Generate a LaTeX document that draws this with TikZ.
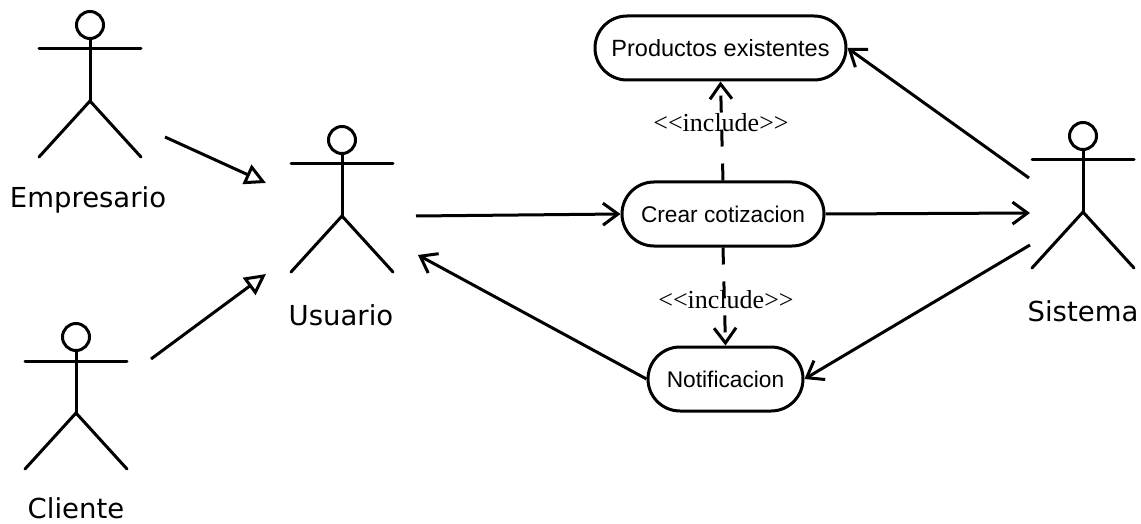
\documentclass[tikz,border=0pt]{standalone}
\usepackage{fontspec}
\setmainfont{DejaVu Sans}
\newfontfamily\serifinc{Liberation Serif}
\newfontfamily\casefont{Liberation Sans}
\usetikzlibrary{arrows.meta,shapes.misc}
\tikzset{
  x=1pt,y=-1pt,
  limb/.style={draw=black,line width=3pt,line cap=round},
  actorname/.style={inner sep=0pt,font=\fontsize{27.5}{30}\selectfont},
  head/.style={circle,draw=black,fill=white,line width=3pt,minimum size=27pt,inner sep=0pt},
  usecase/.style={rounded rectangle,draw=black,line width=3pt,minimum height=64pt,inner sep=0pt},
  stereo/.style={inner sep=0pt,font=\serifinc\fontsize{26}{28}\selectfont},
  gen/.style={line width=3pt,-{Triangle[open,length=21pt,width=21pt,line width=3pt]}},
  assoc/.style={line width=3pt,-{Straight Barb[length=15pt,width=22pt,line width=3pt]}},
  dep/.style={assoc,dash pattern=on 17pt off 17pt},
}
\newcommand{\stick}[6]{% name, head x, head y, label x, label y, label text
  \node[head] (#1head) at (#2,#3) {};
  \draw[limb] (#2-51,#3+24) -- (#2+51,#3+24);
  \draw[limb] (#1head.south) -- (#2,#3+76) coordinate (#1hip);
  \draw[limb,line join=miter] (#2-51,#3+132) -- (#1hip) -- (#2+51,#3+132);
  \node[actorname] (#1) at (#4,#5) {#6};
}
\begin{document}
\begin{tikzpicture}
\useasboundingbox (0,0) rectangle (1141,524);
\stick{empresario}{90}{25}{88}{200}{Empresario}
\stick{cliente}{76}{337}{76}{508}{Cliente}
\stick{usuario}{342}{140}{341}{315}{Usuario}
\stick{sistema}{1083}{136}{1083}{311}{Sistema}
\node[usecase,minimum width=251pt,font=\casefont\fontsize{23.5}{26}\selectfont] (productos) at (720.5,48) {Productos existentes};
\node[usecase,minimum width=202pt,font=\casefont\fontsize{22.7}{26}\selectfont] (crear) at (723,214) {Crear cotizacion};
\node[usecase,minimum width=155pt,font=\casefont\fontsize{22.7}{26}\selectfont] (notif) at (725.5,379) {Notificacion};
\coordinate (e1) at (165,137); \coordinate (u1) at (266,183);
\coordinate (c1) at (151,359); \coordinate (u2) at (266,274);
\coordinate (u3) at (416,216); \coordinate (u4) at (418,255);
\coordinate (s1) at (1029,178); \coordinate (s2) at (1030,213); \coordinate (s3) at (1030,245);
\draw[gen] (e1) -- (u1);
\draw[gen] (c1) -- (u2);
\draw[assoc] (u3) -- (crear.west);
\draw[assoc] (crear.east) -- (s2);
\draw[assoc] (s1) -- (productos.east);
\draw[assoc] (s3) -- (notif.east);
\draw[assoc] (notif.west) -- (u4);
\draw[dep] (crear.north) -- (productos.south);
\draw[dep] (crear.south) -- (notif.north);
\node[stereo] (inc1) at (721,123) {<{}<include>{}>};
\node[stereo] (inc2) at (726,300) {<{}<include>{}>};
\end{tikzpicture}
\end{document}
